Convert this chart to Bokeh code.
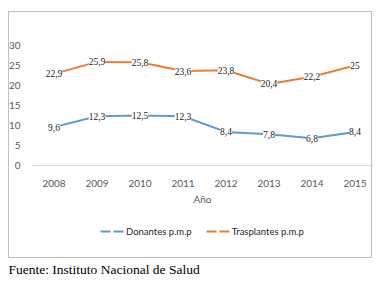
from bokeh.plotting import figure
from bokeh.layouts import column
from bokeh.models import (ColumnDataSource, LabelSet, Legend, LegendItem,
                          FixedTicker, Title, InlineStyleSheet)
from bokeh.embed import file_html
from bokeh.resources import INLINE

years = [2008, 2009, 2010, 2011, 2012, 2013, 2014, 2015]
donantes = [9.6, 12.3, 12.5, 12.3, 8.4, 7.8, 6.8, 8.4]
trasplantes = [22.9, 25.9, 25.8, 23.6, 23.8, 20.4, 22.2, 25]
y_ticks = [0, 5, 10, 15, 20, 25, 30]
series_names = ["Donantes p.m.p", "Trasplantes p.m.p"]
x_title = "Año"
source_note = "Fuente: Instituto Nacional de Salud"

BLUE = "#5B9BD5"
ORANGE = "#ED7D31"
FONT = "Lato"

def fmt(v):
    s = ("%g" % v)
    return s.replace(".", ",")

box_css = InlineStyleSheet(css="""
:host { position: relative; }
:host::after { content: ""; position: absolute; left: 8px; top: 11px; width: 364px; height: 247px;
  border: 1px solid #bfbfbf; pointer-events: none; box-sizing: border-box; z-index: 10; }
""")

# ---- main chart ----
p = figure(width=381, height=213, frame_width=340, frame_height=143,
           output_backend="svg", toolbar_location=None,
           x_range=(2007.5, 2015.407), y_range=(-0.75, 35),
           min_border_left=32, min_border_right=9, min_border_top=25, min_border_bottom=45,
           stylesheets=[box_css])
p.outline_line_color = None
p.background_fill_color = "white"
p.border_fill_color = "white"

p.xgrid.visible = False
p.ygrid.ticker = FixedTicker(ticks=[0])
p.ygrid.grid_line_color = "#d9d9d9"

p.xaxis.ticker = FixedTicker(ticks=years)
p.yaxis.ticker = FixedTicker(ticks=y_ticks)
for ax in (p.xaxis[0], p.yaxis[0]):
    ax.axis_line_color = None
    ax.major_tick_line_color = None
    ax.minor_tick_line_color = None
    ax.major_label_text_font = FONT
    ax.major_label_text_font_size = "10px"
    ax.major_label_text_color = "#595959"
p.xaxis.major_label_standoff = 5
p.yaxis.major_label_standoff = 6
p.xaxis.axis_label = x_title
p.xaxis.axis_label_text_font = FONT
p.xaxis.axis_label_text_font_size = "10px"
p.xaxis.axis_label_text_font_style = "normal"
p.xaxis.axis_label_text_color = "#595959"
p.xaxis.axis_label_standoff = 3

src_d = ColumnDataSource(dict(x=years, y=donantes, t=[fmt(v) for v in donantes]))
src_t = ColumnDataSource(dict(x=years, y=trasplantes, t=[fmt(v) for v in trasplantes]))

p.line("x", "y", source=src_d, line_color=BLUE, line_width=2)
p.line("x", "y", source=src_t, line_color=ORANGE, line_width=2)

for src in (src_d, src_t):
    p.add_layout(LabelSet(x="x", y="y", text="t", source=src, text_align="center",
                          text_baseline="middle", text_font=FONT, text_font_size="9.5px",
                          text_color="#1a1a1a", background_fill_color="white"))

# ---- legend strip + source note ----
q = figure(width=381, height=68, frame_width=381, frame_height=44,
           output_backend="svg", toolbar_location=None,
           x_range=(0, 1), y_range=(0, 1), x_axis_type=None, y_axis_type=None,
           min_border_left=0, min_border_right=0, min_border_top=0, min_border_bottom=24)
q.outline_line_color = None
q.background_fill_alpha = 0
q.border_fill_alpha = 0
q.grid.visible = False

# legend proxies: same series, outside this strip's visible range
rd = q.line("x", "y", source=src_d, line_color=BLUE, line_width=2, line_dash="10 3")
rt = q.line("x", "y", source=src_t, line_color=ORANGE, line_width=2, line_dash="10 3")
legend = Legend(items=[LegendItem(label=series_names[0], renderers=[rd]),
                       LegendItem(label=series_names[1], renderers=[rt])],
                orientation="horizontal", location=(100, 20),
                glyph_width=24, glyph_height=12, label_height=12, label_standoff=2,
                spacing=14, padding=0, margin=0, border_line_color=None,
                background_fill_alpha=0, label_text_font=FONT,
                label_text_font_size="9.5px", label_text_color="#262626")
q.add_layout(legend, "center")

q.add_layout(Title(text=source_note, align="left", offset=-24, standoff=4,
                   text_font="Liberation Serif", text_font_size="13.5px",
                   text_font_style="normal", text_color="black"), "below")

layout = column(p, q, spacing=0)
open("out.html", "w").write(file_html(layout, INLINE))
